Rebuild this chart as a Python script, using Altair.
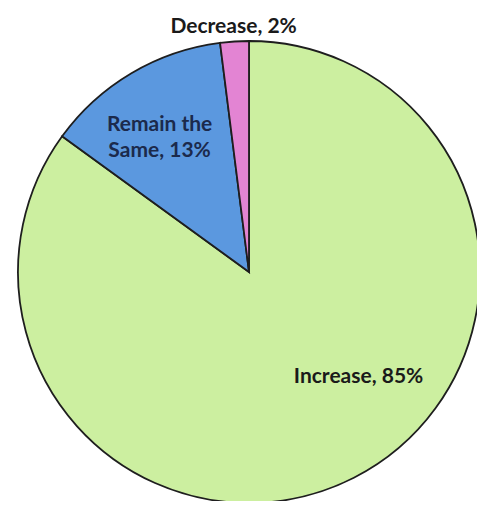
import altair as alt
import pandas as pd

categories = ["Increase", "Remain the Same", "Decrease"]
values = [85, 13, 2]
colors = ["#CCEFA0", "#5B98DF", "#E384D3"]
order = [1, 2, 3]

labels = [f"{c}, {v}%".replace("the ", "the\n") for c, v in zip(categories, values)]

df = pd.DataFrame({
    "category": categories,
    "value": values,
    "order": order,
    "label": labels,
})

CX, CY, R = 241, 264, 231

stacked = alt.Chart(df).transform_stack(
    stack="value", groupby=[], as_=["v0", "v1"],
    sort=[alt.SortField("order", order="ascending")],
).transform_calculate(mid="(datum.v0 + datum.v1) / 2")

pie = stacked.mark_arc(radius=R, stroke="#1E1E1E", strokeWidth=1.8).encode(
    theta=alt.Theta("v0:Q", scale=alt.Scale(domain=[0, 100])),
    theta2="v1:Q",
    x=alt.value(CX),
    y=alt.value(CY),
    color=alt.Color("category:N",
                    scale=alt.Scale(domain=categories, range=colors),
                    legend=None),
)

def label_layer(cat, radius, dx, dy, color):
    return stacked.transform_filter(alt.datum.category == cat).mark_text(
        radius=radius, dx=dx, dy=dy, font="Lato", fontWeight="bold",
        fontSize=21, lineBreak="\n", lineHeight=26, color=color,
        align="center", baseline="middle",
    ).encode(
        theta=alt.Theta("mid:Q", scale=alt.Scale(domain=[0, 100])),
        x=alt.value(CX),
        y=alt.value(CY),
        text="label:N",
    )

# labels sit at each slice's stacked mid-angle, nudged like Excel's
text_inc = label_layer("Increase", 118, 56, 0, "#1A1A1A")
text_rem = label_layer("Remain the Same", 156, -10, -13, "#1B2A4C")
text_dec = label_layer("Decrease", 245, 0, 0, "#1A1A1A")

chart = alt.layer(pie, text_inc, text_rem, text_dec).properties(
    width=469, height=493, padding=0, autosize="none",
    background="white",
).configure_view(stroke=None)

chart.save("out.html", embed_options={"renderer": "svg", "actions": False})
